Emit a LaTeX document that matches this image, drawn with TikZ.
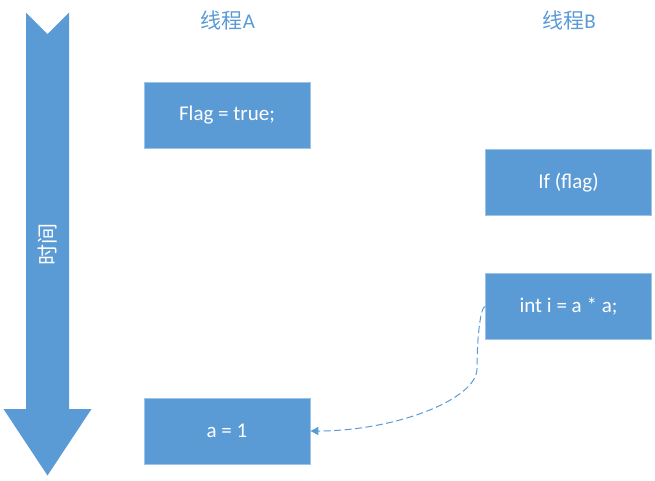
\documentclass[tikz,border=0pt]{standalone}
\usepackage{fontspec}
\setmainfont{Carlito}
\newfontfamily\cjk{Noto Sans CJK SC}
\usepackage{tikz}
\usetikzlibrary{arrows.meta, positioning}
\definecolor{boxblue}{RGB}{91,155,213}
\definecolor{edgeblue}{RGB}{157,195,230}

\begin{document}
\begin{tikzpicture}[x=1pt, y=-1pt]
		\tikzset{stmt/.style={rectangle, fill=boxblue, draw=edgeblue, line width=0.8pt, text=white, minimum width=166pt, minimum height=66pt, inner sep=0, font=\fontsize{21}{25}\selectfont}}
		\tikzset{title/.style={text=boxblue, inner sep=0, font=\fontsize{21}{25}\selectfont}}
		\tikzset{ar/.style={-{Triangle[length=8pt,width=8pt]}, draw=boxblue, line width=1pt, dash pattern=on 7pt off 3.5pt}}
		\useasboundingbox (0,0) rectangle (655,480);
		% time arrow
		\fill[boxblue] (26,12.5) -- (47.5,34) -- (69,12.5) -- (69,409) -- (91.5,409) -- (47.5,475.5) -- (3.5,409) -- (26,409) -- cycle;
		\node[text=white, inner sep=0, rotate=90, font=\fontsize{21}{25}\selectfont] at (47.5,244) (time) {\cjk 时间};
		% threads
		\node[title] at (228,20) (tA) {\cjk 线程\rmfamily A};
		\node[title] at (569,20) (tB) {\cjk 线程\rmfamily B};
		\node[stmt] at (227,115) (flag) {Flag = true;};
		\node[stmt] at (568.5,182.5) (iff) {If (flag)};
		\node[stmt] at (568.5,306.5) (intb) {int i = a * a;};
		\node[stmt] at (227,431) (assign) {a = 1};
		\coordinate (bend) at (477,368.5);
		\draw[ar] (intb.west) .. controls +(-4.5,0) and +(0,-31.5) .. (bend) .. controls +(0,31.5) and +(83,0) .. (assign.east);
	\end{tikzpicture}
\end{document}
